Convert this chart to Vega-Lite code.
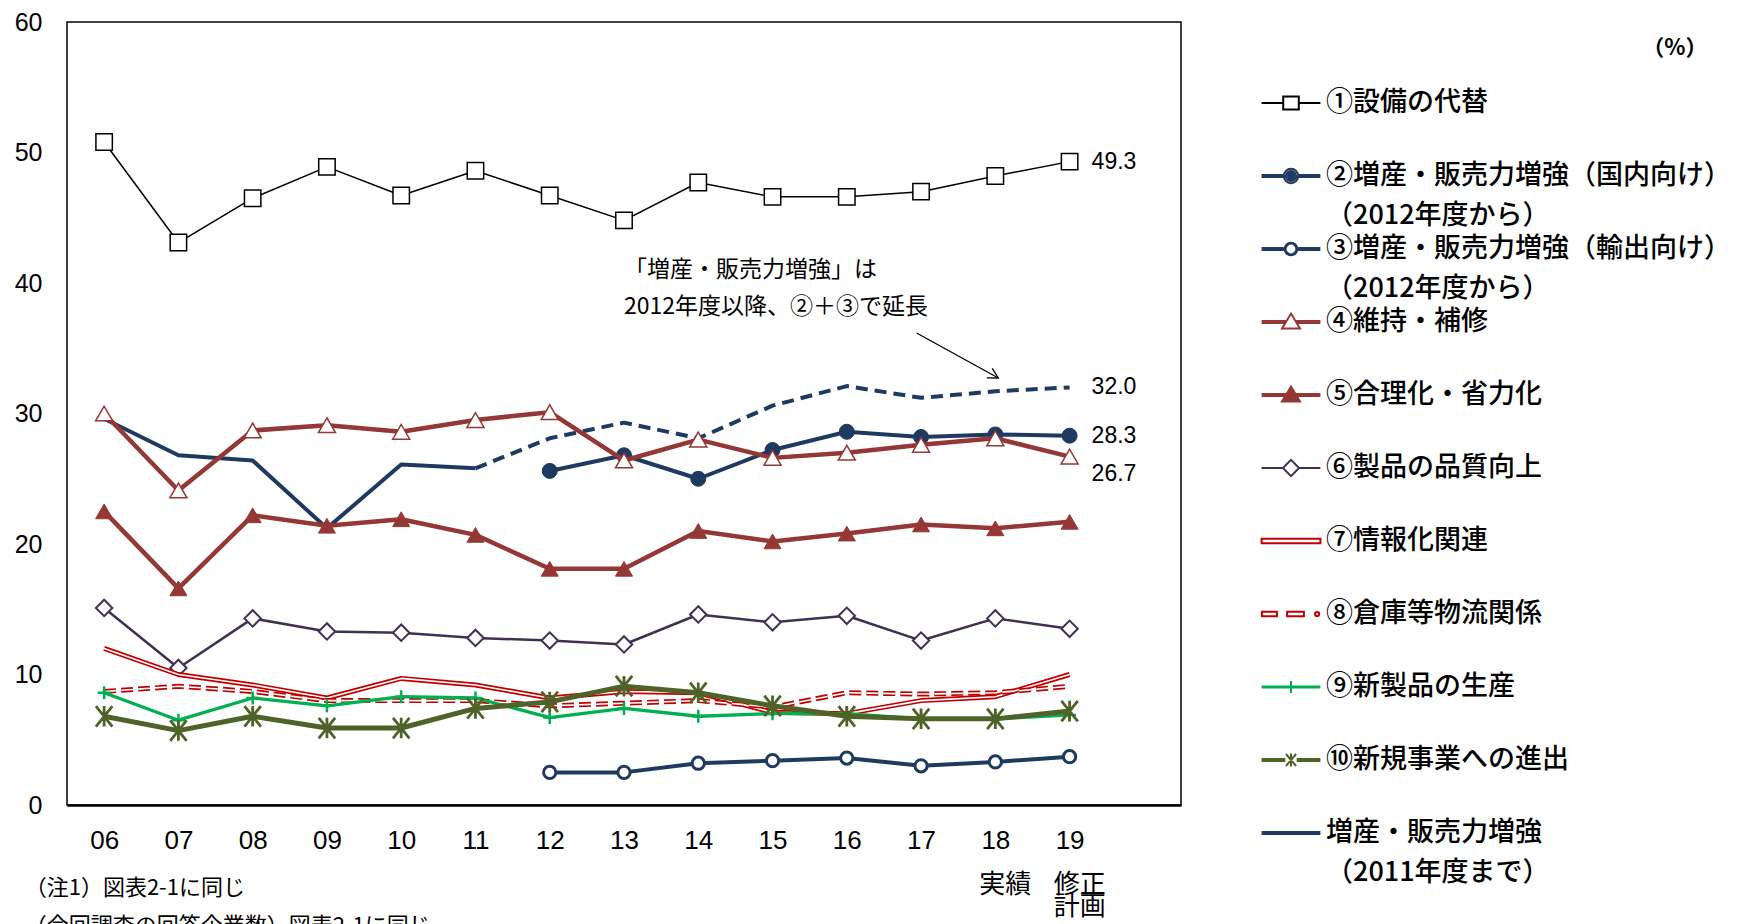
{
"$schema": "https://vega.github.io/schema/vega-lite/v6.json",
"width": 1114, "height": 783,
"autosize": {"type": "none"},
"padding": {"left": 67, "top": 22, "right": 559, "bottom": 119},
"background": "white",
"data": {"values": [
{"series":"①設備の代替","year":2006,"value":50.8},{"series":"①設備の代替","year":2007,"value":43.1},{"series":"①設備の代替","year":2008,"value":46.5},{"series":"①設備の代替","year":2009,"value":48.9},{"series":"①設備の代替","year":2010,"value":46.7},{"series":"①設備の代替","year":2011,"value":48.6},{"series":"①設備の代替","year":2012,"value":46.7},{"series":"①設備の代替","year":2013,"value":44.8},{"series":"①設備の代替","year":2014,"value":47.7},{"series":"①設備の代替","year":2015,"value":46.6},{"series":"①設備の代替","year":2016,"value":46.6},{"series":"①設備の代替","year":2017,"value":47.0},{"series":"①設備の代替","year":2018,"value":48.2},{"series":"①設備の代替","year":2019,"value":49.3},
{"series":"増産・販売力増強","year":2006,"value":29.6},{"series":"増産・販売力増強","year":2007,"value":26.8},{"series":"増産・販売力増強","year":2008,"value":26.4},{"series":"増産・販売力増強","year":2009,"value":21.2},{"series":"増産・販売力増強","year":2010,"value":26.1},{"series":"増産・販売力増強","year":2011,"value":25.8},
{"series":"②＋③","year":2011,"value":25.8},{"series":"②＋③","year":2012,"value":28.1},{"series":"②＋③","year":2013,"value":29.3},{"series":"②＋③","year":2014,"value":28.1},{"series":"②＋③","year":2015,"value":30.6},{"series":"②＋③","year":2016,"value":32.1},{"series":"②＋③","year":2017,"value":31.2},{"series":"②＋③","year":2018,"value":31.7},{"series":"②＋③","year":2019,"value":32.0},
{"series":"②増産・販売力増強（国内向け）","year":2012,"value":25.6},{"series":"②増産・販売力増強（国内向け）","year":2013,"value":26.8},{"series":"②増産・販売力増強（国内向け）","year":2014,"value":25.0},{"series":"②増産・販売力増強（国内向け）","year":2015,"value":27.2},{"series":"②増産・販売力増強（国内向け）","year":2016,"value":28.6},{"series":"②増産・販売力増強（国内向け）","year":2017,"value":28.2},{"series":"②増産・販売力増強（国内向け）","year":2018,"value":28.4},{"series":"②増産・販売力増強（国内向け）","year":2019,"value":28.3},
{"series":"③増産・販売力増強（輸出向け）","year":2012,"value":2.5},{"series":"③増産・販売力増強（輸出向け）","year":2013,"value":2.5},{"series":"③増産・販売力増強（輸出向け）","year":2014,"value":3.2},{"series":"③増産・販売力増強（輸出向け）","year":2015,"value":3.4},{"series":"③増産・販売力増強（輸出向け）","year":2016,"value":3.6},{"series":"③増産・販売力増強（輸出向け）","year":2017,"value":3.0},{"series":"③増産・販売力増強（輸出向け）","year":2018,"value":3.3},{"series":"③増産・販売力増強（輸出向け）","year":2019,"value":3.7},
{"series":"④維持・補修","year":2006,"value":30.0},{"series":"④維持・補修","year":2007,"value":24.1},{"series":"④維持・補修","year":2008,"value":28.7},{"series":"④維持・補修","year":2009,"value":29.1},{"series":"④維持・補修","year":2010,"value":28.6},{"series":"④維持・補修","year":2011,"value":29.5},{"series":"④維持・補修","year":2012,"value":30.1},{"series":"④維持・補修","year":2013,"value":26.4},{"series":"④維持・補修","year":2014,"value":28.0},{"series":"④維持・補修","year":2015,"value":26.6},{"series":"④維持・補修","year":2016,"value":27.0},{"series":"④維持・補修","year":2017,"value":27.6},{"series":"④維持・補修","year":2018,"value":28.1},{"series":"④維持・補修","year":2019,"value":26.7},
{"series":"⑤合理化・省力化","year":2006,"value":22.5},{"series":"⑤合理化・省力化","year":2007,"value":16.6},{"series":"⑤合理化・省力化","year":2008,"value":22.2},{"series":"⑤合理化・省力化","year":2009,"value":21.4},{"series":"⑤合理化・省力化","year":2010,"value":21.9},{"series":"⑤合理化・省力化","year":2011,"value":20.7},{"series":"⑤合理化・省力化","year":2012,"value":18.1},{"series":"⑤合理化・省力化","year":2013,"value":18.1},{"series":"⑤合理化・省力化","year":2014,"value":21.0},{"series":"⑤合理化・省力化","year":2015,"value":20.2},{"series":"⑤合理化・省力化","year":2016,"value":20.8},{"series":"⑤合理化・省力化","year":2017,"value":21.5},{"series":"⑤合理化・省力化","year":2018,"value":21.2},{"series":"⑤合理化・省力化","year":2019,"value":21.7},
{"series":"⑥製品の品質向上","year":2006,"value":15.1},{"series":"⑥製品の品質向上","year":2007,"value":10.5},{"series":"⑥製品の品質向上","year":2008,"value":14.3},{"series":"⑥製品の品質向上","year":2009,"value":13.3},{"series":"⑥製品の品質向上","year":2010,"value":13.2},{"series":"⑥製品の品質向上","year":2011,"value":12.8},{"series":"⑥製品の品質向上","year":2012,"value":12.6},{"series":"⑥製品の品質向上","year":2013,"value":12.3},{"series":"⑥製品の品質向上","year":2014,"value":14.6},{"series":"⑥製品の品質向上","year":2015,"value":14.0},{"series":"⑥製品の品質向上","year":2016,"value":14.5},{"series":"⑥製品の品質向上","year":2017,"value":12.6},{"series":"⑥製品の品質向上","year":2018,"value":14.3},{"series":"⑥製品の品質向上","year":2019,"value":13.5},
{"series":"⑦情報化関連","year":2006,"value":12.0},{"series":"⑦情報化関連","year":2007,"value":10.0},{"series":"⑦情報化関連","year":2008,"value":9.2},{"series":"⑦情報化関連","year":2009,"value":8.2},{"series":"⑦情報化関連","year":2010,"value":9.7},{"series":"⑦情報化関連","year":2011,"value":9.2},{"series":"⑦情報化関連","year":2012,"value":8.2},{"series":"⑦情報化関連","year":2013,"value":8.7},{"series":"⑦情報化関連","year":2014,"value":8.6},{"series":"⑦情報化関連","year":2015,"value":7.1},{"series":"⑦情報化関連","year":2016,"value":7.0},{"series":"⑦情報化関連","year":2017,"value":8.0},{"series":"⑦情報化関連","year":2018,"value":8.3},{"series":"⑦情報化関連","year":2019,"value":10.0},
{"series":"⑧倉庫等物流関係","year":2006,"value":8.7},{"series":"⑧倉庫等物流関係","year":2007,"value":9.1},{"series":"⑧倉庫等物流関係","year":2008,"value":8.7},{"series":"⑧倉庫等物流関係","year":2009,"value":8.0},{"series":"⑧倉庫等物流関係","year":2010,"value":8.0},{"series":"⑧倉庫等物流関係","year":2011,"value":8.0},{"series":"⑧倉庫等物流関係","year":2012,"value":7.6},{"series":"⑧倉庫等物流関係","year":2013,"value":7.8},{"series":"⑧倉庫等物流関係","year":2014,"value":8.0},{"series":"⑧倉庫等物流関係","year":2015,"value":7.5},{"series":"⑧倉庫等物流関係","year":2016,"value":8.6},{"series":"⑧倉庫等物流関係","year":2017,"value":8.5},{"series":"⑧倉庫等物流関係","year":2018,"value":8.6},{"series":"⑧倉庫等物流関係","year":2019,"value":9.1},
{"series":"⑨新製品の生産","year":2006,"value":8.6},{"series":"⑨新製品の生産","year":2007,"value":6.5},{"series":"⑨新製品の生産","year":2008,"value":8.2},{"series":"⑨新製品の生産","year":2009,"value":7.6},{"series":"⑨新製品の生産","year":2010,"value":8.3},{"series":"⑨新製品の生産","year":2011,"value":8.2},{"series":"⑨新製品の生産","year":2012,"value":6.7},{"series":"⑨新製品の生産","year":2013,"value":7.4},{"series":"⑨新製品の生産","year":2014,"value":6.8},{"series":"⑨新製品の生産","year":2015,"value":7.0},{"series":"⑨新製品の生産","year":2016,"value":7.0},{"series":"⑨新製品の生産","year":2017,"value":6.6},{"series":"⑨新製品の生産","year":2018,"value":6.6},{"series":"⑨新製品の生産","year":2019,"value":6.9},
{"series":"⑩新規事業への進出","year":2006,"value":6.8},{"series":"⑩新規事業への進出","year":2007,"value":5.7},{"series":"⑩新規事業への進出","year":2008,"value":6.8},{"series":"⑩新規事業への進出","year":2009,"value":5.9},{"series":"⑩新規事業への進出","year":2010,"value":5.9},{"series":"⑩新規事業への進出","year":2011,"value":7.4},{"series":"⑩新規事業への進出","year":2012,"value":7.9},{"series":"⑩新規事業への進出","year":2013,"value":9.1},{"series":"⑩新規事業への進出","year":2014,"value":8.6},{"series":"⑩新規事業への進出","year":2015,"value":7.6},{"series":"⑩新規事業への進出","year":2016,"value":6.8},{"series":"⑩新規事業への進出","year":2017,"value":6.6},{"series":"⑩新規事業への進出","year":2018,"value":6.6},{"series":"⑩新規事業への進出","year":2019,"value":7.2}
]},
"layer": [
 {"encoding": {
   "x": {"field": "year", "type": "quantitative", "scale": {"domain": [2005.5, 2020.5], "nice": false, "zero": false},
    "axis": {"values": [2006,2007,2008,2009,2010,2011,2012,2013,2014,2015,2016,2017,2018,2019],
     "labelExpr": "datum.value == 2018 ? ['18', '\u2800', '\u2800実績'] : (datum.value == 2019 ? ['19', '\u2800', '\u2800修正', '\u2800計画'] : (datum.value < 2010 ? '0' + (datum.value - 2000) : '' + (datum.value - 2000)))",
     "ticks": false, "grid": false, "domain": true, "domainColor": "black", "domainWidth": 2.5,
     "labelFont": "Liberation Sans, Arial, Noto Sans CJK JP, DejaVu Sans, sans-serif", "labelFontSize": 26, "labelColor": "black",
     "labelPadding": 22, "labelLineHeight": 22, "labelOverlap": false, "labelFlush": false, "labelBound": false, "title": null}},
   "y": {"field": "value", "type": "quantitative", "scale": {"domain": [0, 60], "nice": false},
    "axis": {"values": [0,10,20,30,40,50,60], "ticks": false, "grid": false, "domain": false,
     "labelFont": "Liberation Sans, Arial, sans-serif", "labelFontSize": 25, "labelColor": "black", "labelPadding": 25, "title": null}}
  },
  "layer": [
   {"transform": [{"filter": "datum.series == '①設備の代替'"}],
    "mark": {"type": "line", "stroke": "#000000", "strokeWidth": 1.5, "strokeJoin": "round",
     "point": {"shape": "square", "size": 270, "filled": true, "fill": "white", "stroke": "#000000", "strokeWidth": 1.5}}},
   {"transform": [{"filter": "datum.series == '増産・販売力増強'"}],
    "mark": {"type": "line", "stroke": "#1F3A60", "strokeWidth": 4, "strokeJoin": "round"}},
   {"transform": [{"filter": "datum.series == '②＋③'"}],
    "mark": {"type": "line", "stroke": "#1F3A60", "strokeWidth": 4, "strokeDash": [12, 7], "strokeJoin": "round"}},
   {"transform": [{"filter": "datum.series == '②増産・販売力増強（国内向け）'"}],
    "mark": {"type": "line", "stroke": "#1F3A60", "strokeWidth": 4, "strokeJoin": "round",
     "point": {"shape": "circle", "size": 225, "filled": true, "fill": "#1F3A60", "stroke": "#1F3A60", "strokeWidth": 1}}},
   {"transform": [{"filter": "datum.series == '③増産・販売力増強（輸出向け）'"}],
    "mark": {"type": "line", "stroke": "#1F3A60", "strokeWidth": 4, "strokeJoin": "round",
     "point": {"shape": "circle", "size": 150, "filled": true, "fill": "white", "stroke": "#1F3A60", "strokeWidth": 3}}},
   {"transform": [{"filter": "datum.series == '④維持・補修'"}],
    "mark": {"type": "line", "stroke": "#953735", "strokeWidth": 4.5, "strokeJoin": "round",
     "point": {"shape": "triangle-up", "size": 290, "filled": true, "fill": "white", "stroke": "#953735", "strokeWidth": 1.5}}},
   {"transform": [{"filter": "datum.series == '⑤合理化・省力化'"}],
    "mark": {"type": "line", "stroke": "#953735", "strokeWidth": 4.5, "strokeJoin": "round",
     "point": {"shape": "triangle-up", "size": 290, "filled": true, "fill": "#953735", "stroke": "#953735", "strokeWidth": 1}}},
   {"transform": [{"filter": "datum.series == '⑥製品の品質向上'"}],
    "mark": {"type": "line", "stroke": "#403152", "strokeWidth": 2.5, "strokeJoin": "round",
     "point": {"shape": "diamond", "size": 270, "filled": true, "fill": "white", "stroke": "#403152", "strokeWidth": 2}}},
   {"transform": [{"filter": "datum.series == '⑦情報化関連'"}],
    "mark": {"type": "line", "stroke": "#C00000", "strokeWidth": 5, "strokeJoin": "round"}},
   {"transform": [{"filter": "datum.series == '⑦情報化関連'"}],
    "mark": {"type": "line", "stroke": "white", "strokeWidth": 1.6, "strokeJoin": "round"}},
   {"transform": [{"filter": "datum.series == '⑧倉庫等物流関係'"}],
    "mark": {"type": "line", "stroke": "#C00000", "strokeWidth": 5, "strokeDash": [12, 5], "strokeJoin": "round"}},
   {"transform": [{"filter": "datum.series == '⑧倉庫等物流関係'"}],
    "mark": {"type": "line", "stroke": "white", "strokeWidth": 1.6, "strokeDash": [12, 5], "strokeJoin": "round"}},
   {"transform": [{"filter": "datum.series == '⑨新製品の生産'"}],
    "mark": {"type": "line", "stroke": "#00B050", "strokeWidth": 3.3, "strokeJoin": "round",
     "point": {"shape": "M-1,0H1M0,-1V1", "size": 169, "filled": false, "stroke": "#00B050", "strokeWidth": 2.5}}},
   {"transform": [{"filter": "datum.series == '⑩新規事業への進出'"}],
    "mark": {"type": "line", "stroke": "#4F6228", "strokeWidth": 5, "strokeJoin": "round",
     "point": {"shape": "M-0.8,-1L0.8,1M-0.8,1L0.8,-1M0,-1V1", "size": 420, "filled": false, "stroke": "#4F6228", "strokeWidth": 2.8}}},
   {"transform": [{"filter": "datum.year == 2019 && (datum.series == '①設備の代替' || datum.series == '②＋③' || datum.series == '②増産・販売力増強（国内向け）')"}],
    "mark": {"type": "text", "align": "left", "baseline": "middle", "dx": 22, "font": "Liberation Sans, Arial, sans-serif", "fontSize": 23, "color": "black"},
    "encoding": {"text": {"field": "value", "type": "quantitative", "format": ".1f"}}},
   {"transform": [{"filter": "datum.year == 2019 && datum.series == '④維持・補修'"}],
    "mark": {"type": "text", "align": "left", "baseline": "middle", "dx": 22, "dy": 17, "font": "Liberation Sans, Arial, sans-serif", "fontSize": 23, "color": "black"},
    "encoding": {"text": {"field": "value", "type": "quantitative", "format": ".1f"}}},
   {"transform": [{"filter": "datum.series != '②＋③'"}],
    "mark": {"type": "point", "filled": false, "size": 0, "strokeWidth": 2},
    "encoding": {
     "color": {"field": "series", "type": "nominal",
      "scale": {"domain": ["①設備の代替","②増産・販売力増強（国内向け）","③増産・販売力増強（輸出向け）","④維持・補修","⑤合理化・省力化","⑥製品の品質向上","⑦情報化関連","⑧倉庫等物流関係","⑨新製品の生産","⑩新規事業への進出","増産・販売力増強"],
       "range": ["#000000","#1F3A60","#1F3A60","#953735","#953735","#403152","#C00000","#C00000","#00B050","#4F6228","#1F3A60"]},
      "legend": {"title": null, "orient": "none", "legendX": 1193, "legendY": 65, "direction": "vertical",
       "symbolSize": 900, "symbolStrokeWidth": 2, "symbolOpacity": 1,
       "labelFont": "Noto Sans CJK JP", "labelFontSize": 27, "labelFontWeight": 500, "labelColor": "black", "labelLimit": 600, "labelOffset": 34, "labelBaseline": "middle",
       "rowPadding": 4,
       "encoding": {"labels": {"lineHeight": {"value": 40}}},
       "labelExpr": "datum.label == '②増産・販売力増強（国内向け）' || datum.label == '③増産・販売力増強（輸出向け）' ? [datum.label, '（2012年度から）'] : (datum.label == '増産・販売力増強' ? [datum.label, '（2011年度まで）'] : [datum.label, '\u00a0'])"}},
     "shape": {"field": "series", "type": "nominal",
      "scale": {"domain": ["①設備の代替","②増産・販売力増強（国内向け）","③増産・販売力増強（輸出向け）","④維持・補修","⑤合理化・省力化","⑥製品の品質向上","⑦情報化関連","⑧倉庫等物流関係","⑨新製品の生産","⑩新規事業への進出","増産・販売力増強"],
       "range": [
        "M-0.96,0H0.48M1.52,0H2.96M0.48,-0.44H1.52V0.44H0.48Z",
        "M-0.96,-0.06H0.5M-0.96,0.06H0.5M1.5,-0.06H2.96M1.5,0.06H2.96M0.52,0A0.48,0.48 0 1,0 1.48,0A0.48,0.48 0 1,0 0.52,0M0.66,0A0.34,0.34 0 1,0 1.34,0A0.34,0.34 0 1,0 0.66,0M0.8,0A0.2,0.2 0 1,0 1.2,0A0.2,0.2 0 1,0 0.8,0M0.92,0A0.08,0.08 0 1,0 1.08,0A0.08,0.08 0 1,0 0.92,0",
        "M-0.96,-0.06H0.52M-0.96,0.06H0.52M1.48,-0.06H2.96M1.48,0.06H2.96M0.58,0A0.42,0.42 0 1,0 1.42,0A0.42,0.42 0 1,0 0.58,0M0.64,0A0.36,0.36 0 1,0 1.36,0A0.36,0.36 0 1,0 0.64,0",
        "M-0.96,-0.06H0.66M-0.96,0.06H0.66M1.34,-0.06H2.96M1.34,0.06H2.96M1,-0.56L1.6,0.44H0.4Z",
        "M-0.96,-0.06H2.96M-0.96,0.06H2.96M1,-0.56L1.6,0.44H0.4ZM0.44,0.38H1.56M0.52,0.25H1.48M0.6,0.12H1.4M0.67,-0.01H1.33M0.75,-0.14H1.25M0.83,-0.27H1.17M0.91,-0.4H1.09",
        "M-0.96,0H0.46M1.54,0H2.96M0.46,0L1,-0.54L1.54,0L1,0.54Z",
        "M-0.96,-0.15H2.96V0.15H-0.96Z",
        "M-0.94,-0.15H0.06V0.15H-0.94ZM0.74,-0.15H1.86V0.15H0.74ZM2.6,0A0.14,0.14 0 1,0 2.88,0A0.14,0.14 0 1,0 2.6,0",
        "M-0.96,-0.04H2.96M-0.96,0.04H2.96M1,-0.4V0.4",
        "M-0.96,-0.06H0.62M-0.96,0.06H0.62M1.38,-0.06H2.96M1.38,0.06H2.96M0.66,-0.4L1.34,0.4M0.66,0.4L1.34,-0.4M1,-0.44V0.44",
        "M-0.96,-0.06H2.96M-0.96,0.06H2.96"]},
      "legend": {"title": null, "orient": "none", "legendX": 1193, "legendY": 65, "direction": "vertical",
       "symbolSize": 900, "symbolStrokeWidth": 2, "symbolOpacity": 1,
       "labelFont": "Noto Sans CJK JP", "labelFontSize": 27, "labelFontWeight": 500, "labelColor": "black", "labelLimit": 600, "labelOffset": 34, "labelBaseline": "middle",
       "rowPadding": 4,
       "encoding": {"labels": {"lineHeight": {"value": 40}}},
       "labelExpr": "datum.label == '②増産・販売力増強（国内向け）' || datum.label == '③増産・販売力増強（輸出向け）' ? [datum.label, '（2012年度から）'] : (datum.label == '増産・販売力増強' ? [datum.label, '（2011年度まで）'] : [datum.label, '\u00a0'])"}}
    }}
  ]},
 {"data": {"values": [{}]},
  "mark": {"type": "text", "text": ["「増産・販売力増強」は", "2012年度以降、②＋③で延長"], "lineHeight": 37, "align": "left", "baseline": "alphabetic", "font": "Noto Sans CJK JP", "fontSize": 23, "color": "black"},
  "encoding": {"x": {"datum": 2013.0}, "y": {"datum": 40.49}}},
 {"data": {"values": [{}]},
  "mark": {"type": "text", "text": "（%）", "align": "center", "baseline": "middle", "font": "Noto Sans CJK JP", "fontSize": 22, "fontWeight": "bold", "color": "black"},
  "encoding": {"x": {"datum": 2027.15}, "y": {"datum": 58.0}}},
 {"data": {"values": [{}]},
  "mark": {"type": "rule", "stroke": "black", "strokeWidth": 1.3},
  "encoding": {"x": {"datum": 2016.94}, "y": {"datum": 36.17}, "x2": {"datum": 2018.04}, "y2": {"datum": 32.72}}},
 {"data": {"values": [{}]},
  "mark": {"type": "point", "shape": "M-1,-0.55L0,0L-1,0.55", "filled": false, "stroke": "black", "strokeWidth": 1.3, "size": 400, "angle": 29, "opacity": 1},
  "encoding": {"x": {"datum": 2018.04}, "y": {"datum": 32.72}}},
 {"data": {"values": [{}]},
  "mark": {"type": "text", "text": "（注1）図表2-1に同じ", "align": "left", "baseline": "middle", "font": "Noto Sans CJK JP", "fontSize": 22, "color": "black"},
  "encoding": {"x": {"datum": 2004.93}, "y": {"datum": -6.36}}},
 {"data": {"values": [{}]},
  "mark": {"type": "text", "text": "（今回調査の回答企業数）図表2-1に同じ", "align": "left", "baseline": "middle", "font": "Noto Sans CJK JP", "fontSize": 22, "color": "black"},
  "encoding": {"x": {"datum": 2004.93}, "y": {"datum": -9.3}}}
],
"config": {
 "view": {"stroke": "black", "strokeWidth": 1.5},
 "font": "Noto Sans CJK JP"
}
}
